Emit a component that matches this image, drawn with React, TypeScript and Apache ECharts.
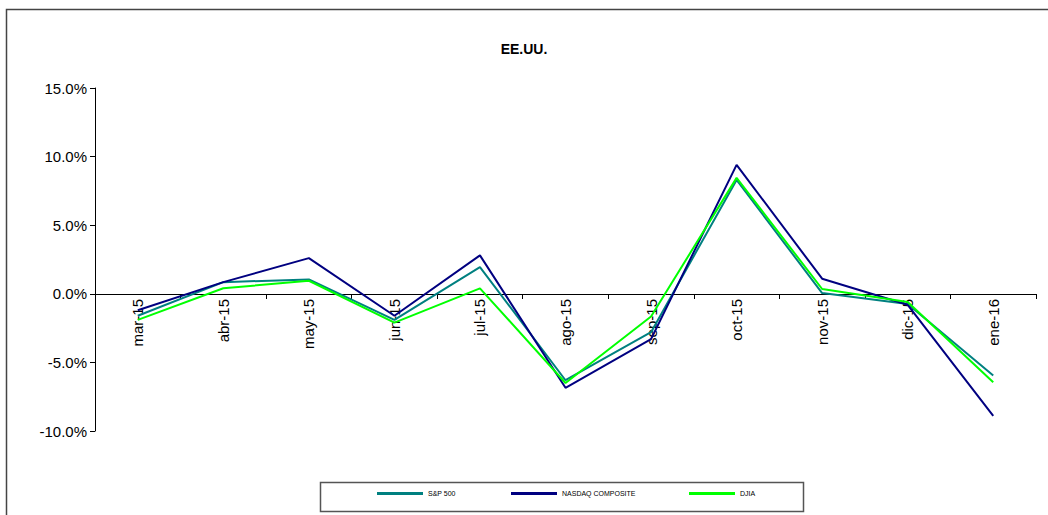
import React, { useEffect, useRef } from "react";
import * as echarts from "echarts";

const categories = ["mar-15", "abr-15", "may-15", "jun-15", "jul-15", "ago-15", "sep-15", "oct-15", "nov-15", "dic-15", "ene-16"];
const sp500 = [-1.6, 0.85, 1.05, -1.9, 1.95, -6.3, -2.8, 8.3, 0.05, -0.75, -5.95];
const nasdaq = [-1.2, 0.85, 2.6, -1.6, 2.8, -6.85, -3.3, 9.4, 1.1, -0.8, -8.9];
const djia = [-1.9, 0.4, 0.95, -2.1, 0.4, -6.5, -1.65, 8.45, 0.35, -0.6, -6.45];
const seriesNames = ["S&P 500", "NASDAQ COMPOSITE", "DJIA"];
const seriesColors = ["#008080", "#000080", "#00FF00"];
const title = "EE.UU.";

export default function App() {
  const ref = useRef<HTMLDivElement>(null);
  useEffect(() => {
    document.body.style.margin = "0";
    if (!ref.current) return;
    const chart = echarts.init(ref.current, null, { renderer: "svg" });
    const font = "Arial, 'Liberation Sans', sans-serif";
    const values = [sp500, nasdaq, djia];
    const legendLefts = [377, 511, 689];
    const gridTop = 88;
    const gridBottom = 84;
    const yMin = -10;
    const yMax = 15;
    const plotH = 515 - gridTop - gridBottom;
    const zeroOffset = -Math.round((plotH * (0 - yMin)) / (yMax - yMin));
    chart.setOption({
      animation: false,
      backgroundColor: "#ffffff",
      title: {
        text: title,
        left: "center",
        top: 37,
        textStyle: { fontFamily: font, fontSize: 14, fontWeight: "bold", color: "#000" },
      },
      grid: { left: 95, right: 12, top: gridTop, bottom: gridBottom, containLabel: false },
      xAxis: {
        type: "category",
        data: categories,
        boundaryGap: true,
        offset: zeroOffset,
        axisLine: { onZero: false, lineStyle: { color: "#000", width: 1 } },
        axisTick: { show: true, length: 5, lineStyle: { color: "#000" } },
        axisLabel: { rotate: 90, margin: 5, fontFamily: font, fontSize: 15, color: "#000" },
        splitLine: { show: false },
      },
      yAxis: {
        type: "value",
        min: yMin,
        max: yMax,
        interval: 5,
        axisLine: { show: true, lineStyle: { color: "#000", width: 1 } },
        axisTick: { show: true, length: 5, lineStyle: { color: "#000" } },
        axisLabel: {
          fontFamily: font,
          fontSize: 15,
          color: "#000",
          margin: 8,
          formatter: (v: number) => v.toFixed(1) + "%",
        },
        splitLine: { show: false },
      },
      legend: seriesNames.map((n, i) => ({
        data: [n],
        left: legendLefts[i],
        top: 490,
        padding: 0,
        icon: "rect",
        itemWidth: 46,
        itemHeight: 3,
        itemGap: 4,
        textStyle: { fontFamily: font, fontSize: 7, color: "#000" },
      })),
      graphic: [
        {
          type: "rect",
          shape: { x: 6.5, y: 9.5, width: 1100, height: 600 },
          style: { fill: "none", stroke: "#444", lineWidth: 1.5 },
          silent: true,
        },
        {
          type: "rect",
          shape: { x: 320.5, y: 482.5, width: 483, height: 29 },
          style: { fill: "none", stroke: "#555", lineWidth: 1.5 },
          silent: true,
        },
      ],
      series: seriesNames.map((n, i) => ({
        name: n,
        type: "line",
        data: values[i],
        symbol: "none",
        color: seriesColors[i],
        lineStyle: { width: 2, color: seriesColors[i] },
        z: 2 + i,
      })),
    });
    return () => chart.dispose();
  }, []);
  return <div ref={ref} style={{ width: 1048, height: 515 }} />;
}
